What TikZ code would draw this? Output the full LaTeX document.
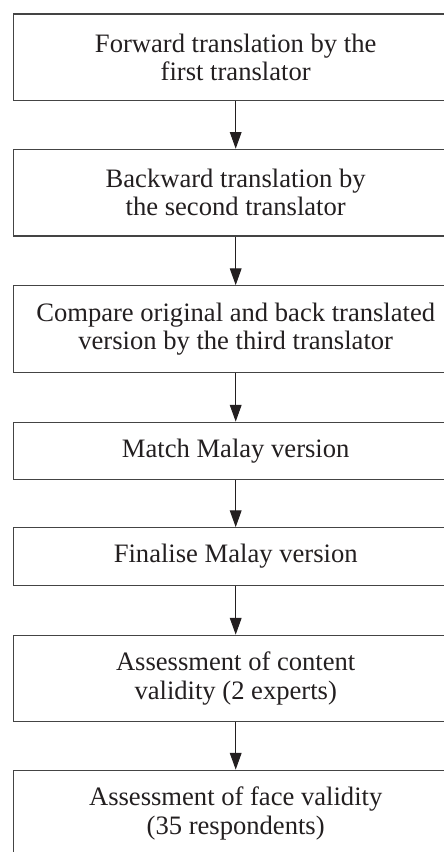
\documentclass[tikz,border=0pt]{standalone}
\usepackage{fontspec}
\setmainfont{Liberation Serif}
\usetikzlibrary{arrows.meta}
\definecolor{edge}{HTML}{444444}
\definecolor{ink}{HTML}{231F20}
\tikzset{
  stepbox/.style={draw=edge, line width=1.3pt, minimum width=444.5pt, inner sep=0pt,
    align=center, text=ink, font=\fontsize{26.6}{28.4}\selectfont},
  twoline/.style={stepbox, minimum height=86.5pt},
  oneline/.style={stepbox, minimum height=57.5pt},
  flow/.style={draw=edge, line width=1pt, -{Triangle[width=11.7pt,length=16.7pt]}, color=ink}
}
\begin{document}
\begin{tikzpicture}[x=1pt,y=1pt]
\clip (0,0) rectangle (444,-852);
\fill[white] (0,0) rectangle (444,-852);
\node[twoline] (b1) at (235.7,-57.3) {Forward translation by the\\first translator};
\node[twoline] (b2) at (235.7,-192.6) {Backward translation by\\the second translator};
\node[twoline] (b3) at (235.7,-329) {Compare original and back translated\\version by the third translator};
\node[oneline] (b4) at (235.7,-451) {Match Malay version};
\node[oneline] (b5) at (235.7,-556.5) {Finalise Malay version};
\node[twoline] (b6) at (235.7,-678.5) {Assessment of content\\validity (2 experts)};
\node[twoline] (b7) at (235.7,-813.5) {Assessment of face validity\\(35 respondents)};
\draw[flow] (b1.south) -- (b2.north);
\draw[flow] (b2.south) -- (b3.north);
\draw[flow] (b3.south) -- (b4.north);
\draw[flow] (b4.south) -- (b5.north);
\draw[flow] (b5.south) -- (b6.north);
\draw[flow] (b6.south) -- (b7.north);
\end{tikzpicture}
\end{document}
